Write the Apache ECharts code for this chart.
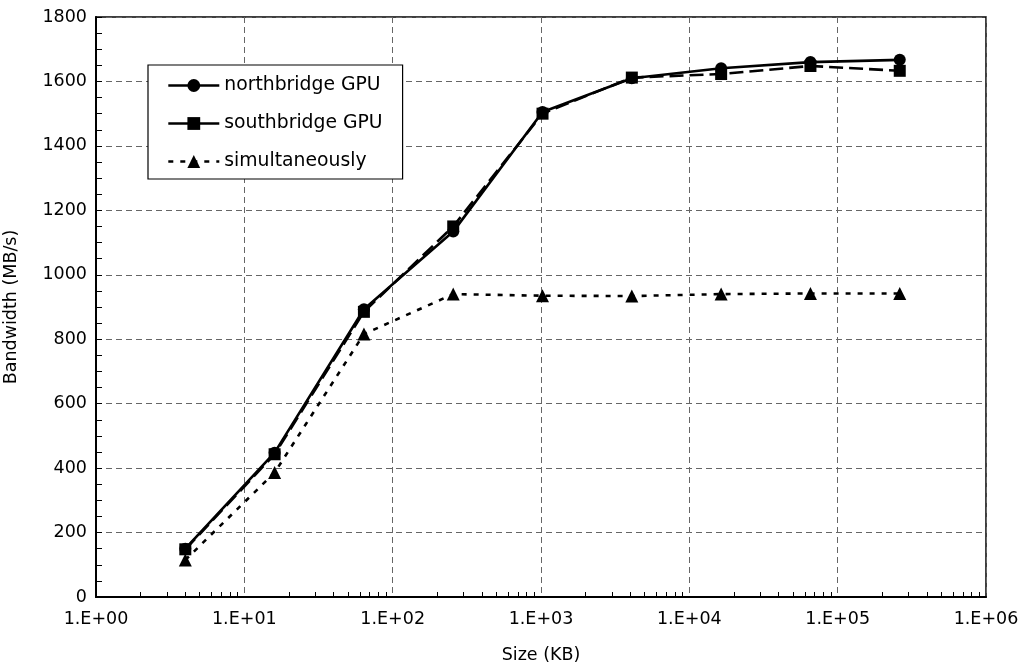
<!DOCTYPE html>
<html><head><meta charset="utf-8">
<script src="https://cdn.jsdelivr.net/npm/echarts@6/dist/echarts.min.js"></script>
<style>html,body{margin:0;padding:0;background:#fff}#c{width:1026px;height:668px}</style>
</head><body><div id="c"></div>
<script>
const sizes = [4, 16, 64, 256, 1024, 4096, 16384, 65536, 262144];
const northbridge = [150, 448, 893, 1134, 1505, 1610, 1641, 1660, 1667];
const southbridge = [148, 443, 885, 1150, 1500, 1612, 1623, 1648, 1633];
const simultaneously = [115, 386, 816, 940, 935, 934, 940, 942, 942];
const xMinorTicks = [];
for (let d = 1; d < 1e6; d *= 10) for (let k = 2; k <= 9; k++) xMinorTicks.push(k * d);

const FONT = 'DejaVu Sans, sans-serif';
const FS = 17.5;
const pair = arr => sizes.map((s, i) => [s, arr[i]]);
const chart = echarts.init(document.getElementById('c'));
chart.setOption({
  animation: false,
  backgroundColor: '#fff',
  grid: { left: 96, right: 40, top: 17, bottom: 71, outerBoundsMode: 'none', containLabel: false,
    show: true, borderColor: '#000', borderWidth: 1.5, backgroundColor: 'transparent' },
  legend: {
    left: 148, top: 65, orient: 'vertical',
    backgroundColor: '#fff', borderColor: '#000', borderWidth: 1.2,
    padding: [11, 20, 8, 19], itemGap: 19, itemWidth: 51, itemHeight: 16,
    textStyle: { fontFamily: FONT, fontSize: 18.8, color: '#000' },
    data: [
      { name: 'northbridge GPU', lineStyle: { width: 2.6 } },
      { name: 'southbridge GPU', lineStyle: { type: 'solid', width: 2.6 } },
      { name: 'simultaneously', lineStyle: { width: 2.6 } }
    ]
  },
  xAxis: [{
    type: 'log', logBase: 10, min: 1, max: 1e6,
    name: 'Size (KB)', nameLocation: 'middle', nameGap: 49,
    nameTextStyle: { fontFamily: FONT, fontSize: FS, color: '#000' },
    axisLine: { lineStyle: { color: '#000', width: 2 } },
    axisTick: { show: false },
    axisLabel: { fontFamily: FONT, fontSize: FS, color: '#000', margin: 13,
      formatter: v => '1.E+' + String(Math.round(Math.log10(v))).padStart(2, '0') },
    splitLine: { show: true, lineStyle: { color: '#666', type: [6, 4], width: 1 } }
  }, {
    type: 'log', logBase: 10, min: 1, max: 1e6, position: 'bottom',
    axisLine: { show: false },
    axisLabel: { show: false },
    splitLine: { show: false },
    axisTick: { show: true, inside: true, length: 5, customValues: xMinorTicks, lineStyle: { color: '#000', width: 1 } }
  }],
  yAxis: {
    type: 'value', min: 0, max: 1800, interval: 200,
    name: 'Bandwidth (MB/s)', nameLocation: 'middle', nameGap: 76,
    nameTextStyle: { fontFamily: FONT, fontSize: FS, color: '#000' },
    axisLine: { show: true, lineStyle: { color: '#000', width: 2 } },
    axisTick: { show: true, inside: true, length: 6, lineStyle: { color: '#000' } },
    minorTick: { show: true, splitNumber: 4, length: 6, lineStyle: { color: '#000' } },
    axisLabel: { fontFamily: FONT, fontSize: FS, color: '#000', margin: 9, formatter: v => String(v) },
    splitLine: { show: true, lineStyle: { color: '#666', type: [6, 4], width: 1 } }
  },
  series: [
    { name: 'northbridge GPU', type: 'line', data: pair(northbridge), symbol: 'circle', symbolSize: 12,
      itemStyle: { color: '#000' }, lineStyle: { color: '#000', width: 2.6, type: 'solid' }, z: 3 },
    { name: 'southbridge GPU', type: 'line', data: pair(southbridge), symbol: 'rect', symbolSize: 12,
      itemStyle: { color: '#000' }, lineStyle: { color: '#000', width: 2.6, type: [14, 6] }, z: 4 },
    { name: 'simultaneously', type: 'line', data: pair(simultaneously), symbol: 'triangle', symbolSize: 13,
      itemStyle: { color: '#000' }, lineStyle: { color: '#000', width: 2.6, type: [5, 7] }, z: 5 }
  ]
});
</script></body></html>
